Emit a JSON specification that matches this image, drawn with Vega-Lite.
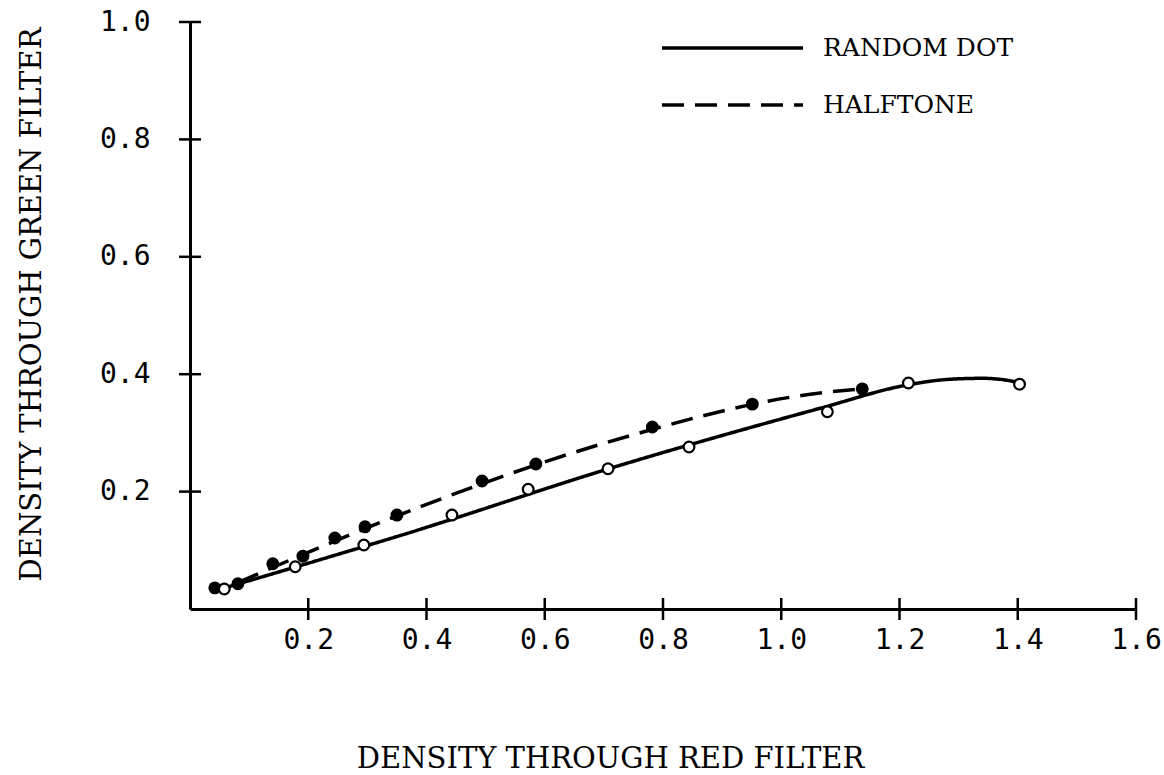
{
  "$schema": "https://vega.github.io/schema/vega-lite/v6.json",
  "width": 946,
  "height": 587,
  "autosize": "none",
  "padding": {"left": 190, "top": 22, "right": 28, "bottom": 166},
  "background": "white",
  "config": {"view": {"stroke": null}},
  "datasets": {
    "measured": [
      {"series": "HALFTONE", "red": 0.042, "green": 0.036},
      {"series": "HALFTONE", "red": 0.081, "green": 0.043},
      {"series": "HALFTONE", "red": 0.140, "green": 0.077},
      {"series": "HALFTONE", "red": 0.191, "green": 0.090},
      {"series": "HALFTONE", "red": 0.245, "green": 0.121},
      {"series": "HALFTONE", "red": 0.296, "green": 0.140},
      {"series": "HALFTONE", "red": 0.350, "green": 0.160},
      {"series": "HALFTONE", "red": 0.494, "green": 0.218},
      {"series": "HALFTONE", "red": 0.585, "green": 0.247},
      {"series": "HALFTONE", "red": 0.782, "green": 0.310},
      {"series": "HALFTONE", "red": 0.951, "green": 0.349},
      {"series": "HALFTONE", "red": 1.137, "green": 0.375},
      {"series": "RANDOM DOT", "red": 0.058, "green": 0.034},
      {"series": "RANDOM DOT", "red": 0.178, "green": 0.072},
      {"series": "RANDOM DOT", "red": 0.294, "green": 0.109},
      {"series": "RANDOM DOT", "red": 0.443, "green": 0.160},
      {"series": "RANDOM DOT", "red": 0.572, "green": 0.204},
      {"series": "RANDOM DOT", "red": 0.707, "green": 0.239},
      {"series": "RANDOM DOT", "red": 0.844, "green": 0.276},
      {"series": "RANDOM DOT", "red": 1.078, "green": 0.336},
      {"series": "RANDOM DOT", "red": 1.215, "green": 0.385},
      {"series": "RANDOM DOT", "red": 1.403, "green": 0.383}
    ],
    "fitted": [
      {"series": "RANDOM DOT", "red": 0.059, "green": 0.036},
      {"series": "RANDOM DOT", "red": 0.200, "green": 0.078},
      {"series": "RANDOM DOT", "red": 0.355, "green": 0.125},
      {"series": "RANDOM DOT", "red": 0.728, "green": 0.245},
      {"series": "RANDOM DOT", "red": 1.066, "green": 0.342},
      {"series": "RANDOM DOT", "red": 1.215, "green": 0.382},
      {"series": "RANDOM DOT", "red": 1.280, "green": 0.391},
      {"series": "RANDOM DOT", "red": 1.340, "green": 0.393},
      {"series": "RANDOM DOT", "red": 1.380, "green": 0.390},
      {"series": "RANDOM DOT", "red": 1.404, "green": 0.385},
      {"series": "HALFTONE", "red": 0.081, "green": 0.045},
      {"series": "HALFTONE", "red": 0.389, "green": 0.174},
      {"series": "HALFTONE", "red": 0.706, "green": 0.284},
      {"series": "HALFTONE", "red": 1.066, "green": 0.368},
      {"series": "HALFTONE", "red": 1.137, "green": 0.375}
    ],
    "xticks": [
      {"red": 0.2}, {"red": 0.4}, {"red": 0.6}, {"red": 0.8},
      {"red": 1.0}, {"red": 1.2}, {"red": 1.4}, {"red": 1.6}
    ],
    "yticks": [
      {"green": 0.2}, {"green": 0.4}, {"green": 0.6}, {"green": 0.8}, {"green": 1.0}
    ]
  },
  "layer": [
    {
      "data": {"name": "fitted"},
      "mark": {"type": "line", "interpolate": "monotone", "color": "black", "strokeWidth": 3.5},
      "encoding": {
        "x": {
          "field": "red", "type": "quantitative",
          "scale": {"domain": [0, 1.6], "nice": false},
          "axis": {
            "values": [0.2, 0.4, 0.6, 0.8, 1.0, 1.2, 1.4, 1.6],
            "format": ".1f",
            "grid": false,
            "ticks": false,
            "domainColor": "black",
            "domainWidth": 3,
            "labelFont": "DejaVu Sans Mono",
            "labelFontSize": 28,
            "labelColor": "black",
            "labelPadding": 17,
            "labelFlush": false,
            "labelOverlap": false,
            "title": "DENSITY THROUGH RED FILTER",
            "titleFont": "DejaVu Serif",
            "titleFontSize": 29,
            "titleFontWeight": "normal",
            "titleColor": "black",
            "titleX": 420,
            "titleY": 158,
            "titleAlign": "center",
            "titleBaseline": "alphabetic"
          }
        },
        "y": {
          "field": "green", "type": "quantitative",
          "scale": {"domain": [0, 1], "nice": false},
          "axis": {
            "values": [0.2, 0.4, 0.6, 0.8, 1.0],
            "format": ".1f",
            "grid": false,
            "ticks": false,
            "domainColor": "black",
            "domainWidth": 3,
            "labelFont": "DejaVu Sans Mono",
            "labelFontSize": 28,
            "labelColor": "black",
            "labelPadding": 40,
            "labelFlush": false,
            "labelOverlap": false,
            "title": "DENSITY THROUGH GREEN FILTER",
            "titleFont": "DejaVu Serif",
            "titleFontSize": 29,
            "titleFontWeight": "normal",
            "titleColor": "black",
            "titleAngle": 270,
            "titleX": -159,
            "titleY": 282,
            "titleAlign": "center",
            "titleBaseline": "middle"
          }
        },
        "strokeDash": {
          "field": "series", "type": "nominal",
          "scale": {"domain": ["RANDOM DOT", "HALFTONE"], "range": [[1, 0], [22, 11]]},
          "legend": {
            "title": null,
            "orient": "none",
            "legendX": 472,
            "legendY": 12,
            "symbolType": "stroke",
            "symbolSize": 100,
            "symbolStrokeWidth": 3.5,
            "symbolStrokeColor": "black",
            "labelFont": "DejaVu Serif",
            "labelFontSize": 25,
            "labelColor": "black",
            "labelLimit": 400,
            "labelOffset": 16,
            "rowPadding": 30,
            "padding": 0,
            "encode": {
              "symbols": {
                "update": {
                  "size": {"value": 19881},
                  "x": {"value": 70.5},
                  "y": {"value": 14},
                  "strokeDash": {"signal": "datum.value === 'HALFTONE' ? [9, 6] : [1, 0]"}
                }
              },
              "labels": {
                "update": {
                  "y": {"value": 14},
                  "baseline": {"value": "middle"}
                }
              }
            }
          }
        }
      }
    },
    {
      "data": {"name": "measured"},
      "mark": {"type": "point", "shape": "circle", "filled": true, "size": 115, "stroke": "black", "strokeWidth": 2.2, "opacity": 1},
      "encoding": {
        "x": {"field": "red", "type": "quantitative"},
        "y": {"field": "green", "type": "quantitative"},
        "fill": {
          "field": "series", "type": "nominal",
          "scale": {"domain": ["RANDOM DOT", "HALFTONE"], "range": ["white", "black"]},
          "legend": null
        }
      }
    },
    {
      "data": {"name": "xticks"},
      "mark": {"type": "tick", "orient": "vertical", "size": 22, "thickness": 2.5, "color": "black", "opacity": 1},
      "encoding": {
        "x": {"field": "red", "type": "quantitative"},
        "y": {"datum": 0, "type": "quantitative"}
      }
    },
    {
      "data": {"name": "yticks"},
      "mark": {"type": "tick", "orient": "horizontal", "size": 22, "thickness": 2.5, "color": "black", "opacity": 1},
      "encoding": {
        "y": {"field": "green", "type": "quantitative"},
        "x": {"datum": 0, "type": "quantitative"}
      }
    }
  ]
}
